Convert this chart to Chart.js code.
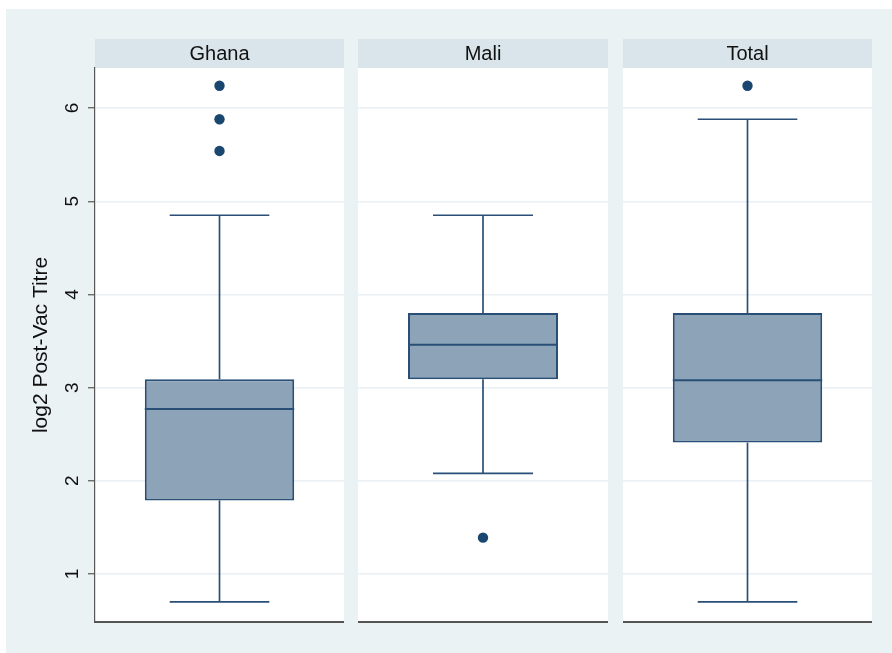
<!DOCTYPE html>
<html>
<head>
<meta charset="utf-8">
<script src="https://cdn.jsdelivr.net/npm/chart.js@4.4.1/dist/chart.umd.min.js"></script>
<style>
  body { margin: 0; background: #fff; }
  #bg { position: absolute; left: 6px; top: 9px; width: 886px; height: 644px; background: #eaf2f3; }
  canvas { position: absolute; top: 9px; }
</style>
</head>
<body>
<div id="bg"></div>
<canvas id="c0" width="338" height="644" style="left:6px"></canvas>
<canvas id="c1" width="250" height="644" style="left:358px"></canvas>
<canvas id="c2" width="249" height="644" style="left:623px"></canvas>
<script>
// box plot summaries
var groups = ['Ghana', 'Mali', 'Total'];
var lowerWhisker = [0.70, 2.08, 0.70];
var q1 = [1.79, 3.09, 2.41];
var median = [2.77, 3.46, 3.08];
var q3 = [3.09, 3.80, 3.80];
var upperWhisker = [4.85, 4.85, 5.88];
var outliers = [[5.54, 5.88, 6.24], [1.39], [6.24]];
var yTicks = [1, 2, 3, 4, 5, 6];
var yTitle = 'log2 Post-Vac Titre';

var navy = '#1a476f';
var lineCol = '#2a4f76';
var font = "'Liberation Sans', Arial, Helvetica, sans-serif";

// white plot area + header strip behind title
var panelBg = {
  id: 'panelBg',
  beforeDraw: function(chart) {
    var ctx = chart.ctx, a = chart.chartArea, t = chart.titleBlock;
    ctx.save();
    ctx.fillStyle = '#ffffff';
    ctx.fillRect(a.left, a.top, a.right - a.left, a.bottom - a.top);
    ctx.fillStyle = '#d9e5ea';
    ctx.fillRect(a.left, t.top, a.right - a.left, a.top - t.top);
    ctx.restore();
  }
};

// whiskers, caps and median line
var whiskers = {
  id: 'whiskers',
  afterDatasetsDraw: function(chart) {
    var i = chart.options.plugins.whiskers.idx;
    var ctx = chart.ctx;
    var ys = chart.scales.y;
    var bar = chart.getDatasetMeta(0).data[0];
    var cx = bar.x, half = bar.width / 2, cap = bar.width / 3;
    function hline(v, w) {
      var y = ys.getPixelForValue(v);
      ctx.beginPath(); ctx.moveTo(cx - w, y); ctx.lineTo(cx + w, y); ctx.stroke();
    }
    function vline(a, b) {
      ctx.beginPath();
      ctx.moveTo(cx, ys.getPixelForValue(a));
      ctx.lineTo(cx, ys.getPixelForValue(b));
      ctx.stroke();
    }
    ctx.save();
    ctx.strokeStyle = lineCol;
    ctx.lineWidth = 1.7;
    vline(q3[i], upperWhisker[i]);
    vline(lowerWhisker[i], q1[i]);
    hline(upperWhisker[i], cap);
    hline(lowerWhisker[i], cap);
    ctx.lineWidth = 2;
    hline(median[i], half);
    ctx.restore();
  }
};

function makePanel(i) {
  var first = i === 0;
  new Chart(document.getElementById('c' + i), {
    type: 'bar',
    data: {
      labels: [groups[i]],
      datasets: [
        {
          data: [[q1[i], q3[i]]],
          backgroundColor: '#8da3b8',
          borderColor: lineCol,
          borderWidth: 2,
          borderSkipped: false,
          barPercentage: 0.6,
          categoryPercentage: 1
        },
        {
          type: 'line',
          data: outliers[i].map(function(v) { return { x: groups[i], y: v }; }),
          showLine: false,
          pointRadius: 5.2,
          pointBackgroundColor: navy,
          pointBorderWidth: 0
        }
      ]
    },
    options: {
      responsive: false,
      animation: false,
      layout: { autoPadding: false, padding: { top: 30, bottom: 31, left: 0, right: 0 } },
      plugins: {
        legend: { display: false },
        tooltip: { enabled: false },
        title: {
          display: true,
          text: groups[i],
          fullSize: false,
          color: '#111',
          font: { family: font, size: 20, weight: 'normal', lineHeight: 1.2 },
          padding: { top: 3, bottom: 2 }
        },
        whiskers: { idx: i }
      },
      scales: {
        x: {
          display: true,
          ticks: { display: false },
          grid: { display: false },
          border: { display: true, color: '#555', width: 2 },
          afterFit: function(s) { s.height = 0; }
        },
        y: {
          min: 0.485,
          max: 6.43,
          afterBuildTicks: function(s) {
            s.ticks = yTicks.map(function(v) { return { value: v }; });
          },
          afterFit: function(s) { s.width = first ? 89 : 0; },
          ticks: {
            display: first,
            minRotation: 90,
            maxRotation: 90,
            crossAlign: 'center',
            padding: 10,
            color: '#111',
            font: { family: font, size: 19 }
          },
          grid: {
            color: '#eaf0f3',
            lineWidth: 1.5,
            drawTicks: first,
            tickLength: 7,
            tickColor: '#555',
            tickWidth: 1.2
          },
          border: { display: first, color: '#555', width: 1.2 },
          title: {
            display: first,
            text: yTitle,
            color: '#111',
            font: { family: font, size: 21 },
            padding: { top: 23, bottom: 0 }
          }
        }
      }
    },
    plugins: [panelBg, whiskers]
  });
}

for (var i = 0; i < groups.length; i++) makePanel(i);
</script>
</body>
</html>
